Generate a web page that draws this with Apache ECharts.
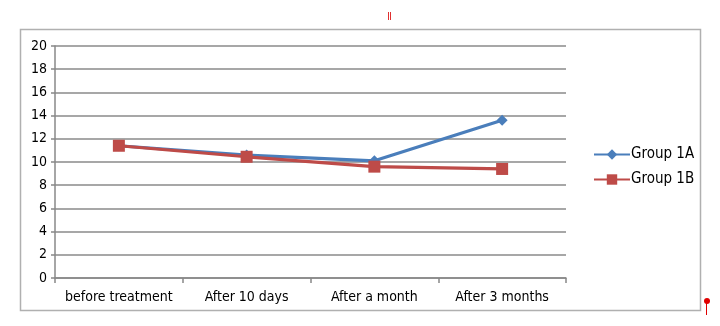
<!DOCTYPE html>
<html>
<head>
<meta charset="utf-8">
<script src="https://cdn.jsdelivr.net/npm/echarts@6/dist/echarts.min.js"></script>
<style>
html,body{margin:0;padding:0;background:#fff;}
#c{width:720px;height:326px;}
</style>
</head>
<body>
<div id="c"></div>
<script>
var categories = ['before treatment', 'After 10 days', 'After a month', 'After 3 months'];
var group1A = [11.4, 10.6, 10.1, 13.6];
var group1B = [11.4, 10.45, 9.6, 9.4];
var yTicks = { min: 0, max: 20, interval: 2 };

var FONT = "'Liberation Sans Narrow', 'DejaVu Sans Condensed', 'Liberation Sans', sans-serif";
var chart = echarts.init(document.getElementById('c'), null, { renderer: 'canvas' });
chart.setOption({
  animation: false,
  backgroundColor: '#fff',
  textStyle: { fontFamily: FONT },
  graphic: [
    { type: 'rect', shape: { x: 20.5, y: 29.5, width: 680, height: 281 },
      style: { fill: 'none', stroke: '#b0b0b0', lineWidth: 1.5 } },
    { type: 'rect', shape: { x: 388, y: 12, width: 1, height: 8 }, style: { fill: '#e03030' } },
    { type: 'rect', shape: { x: 390, y: 12, width: 1, height: 8 }, style: { fill: '#e03030' } },
    { type: 'circle', shape: { cx: 707, cy: 301, r: 3 }, style: { fill: '#e00000' } },
    { type: 'rect', shape: { x: 706, y: 301, width: 1, height: 14 }, style: { fill: '#e00000' } }
  ],
  grid: { left: 55, right: 154, top: 46, bottom: 48, containLabel: false },
  legend: {
    orient: 'vertical',
    left: 588,
    top: 142,
    itemGap: 10,
    itemWidth: 36,
    itemHeight: 13,
    textStyle: { fontFamily: FONT, fontSize: 15, color: '#000', padding: [0, 0, 0, -4] },
    data: [
      { name: 'Group 1A' },
      { name: 'Group 1B' }
    ]
  },
  xAxis: {
    type: 'category',
    data: categories,
    boundaryGap: true,
    axisLine: { show: true, lineStyle: { color: '#888', width: 1.5 } },
    axisTick: { show: true, length: 5, interval: 0, lineStyle: { color: '#888', width: 1.5 } },
    axisLabel: { color: '#000', fontSize: 14, fontFamily: FONT, margin: 12, interval: 0 },
    splitLine: { show: false }
  },
  yAxis: {
    type: 'value',
    min: yTicks.min,
    max: yTicks.max,
    interval: yTicks.interval,
    axisLine: { show: true, lineStyle: { color: '#888', width: 1.5 } },
    axisTick: { show: true, length: 4, lineStyle: { color: '#888', width: 1.5 } },
    axisLabel: { color: '#000', fontSize: 14, fontFamily: FONT, margin: 8 },
    splitLine: { show: true, lineStyle: { color: '#8a8a8a', width: 1.5 } }
  },
  series: [
    {
      name: 'Group 1A',
      type: 'line',
      data: group1A,
      symbol: 'diamond',
      symbolSize: 11,
      itemStyle: { color: '#4a7ebb' },
      lineStyle: { color: '#4a7ebb', width: 3.2 },
      z: 2
    },
    {
      name: 'Group 1B',
      type: 'line',
      data: group1B,
      symbol: 'rect',
      symbolSize: 12,
      itemStyle: { color: '#be4b48' },
      lineStyle: { color: '#be4b48', width: 3.2 },
      z: 3
    }
  ]
});
</script>
</body>
</html>
